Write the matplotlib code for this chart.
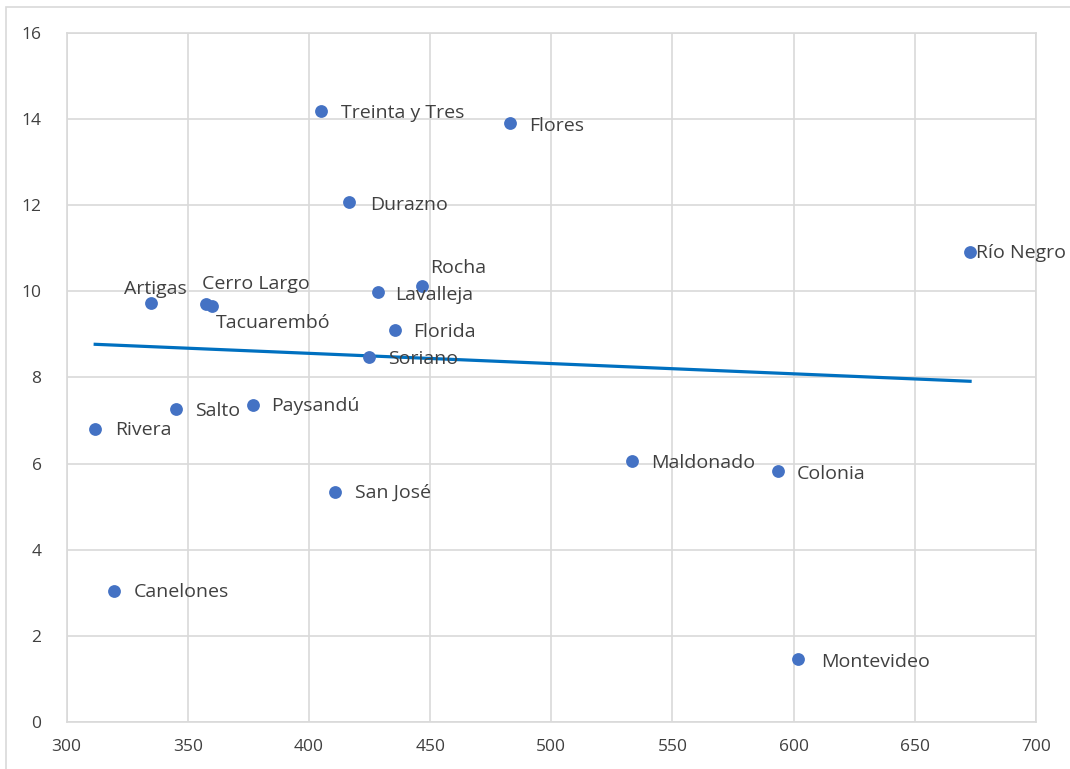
import matplotlib
matplotlib.use("Agg")
import matplotlib.pyplot as plt
from matplotlib.patches import Rectangle
import numpy as np

plt.rcParams['font.family'] = ['Open Sans', 'DejaVu Sans']

departamentos = ["Treinta y Tres", "Flores", "Durazno", "Rocha", "Lavalleja",
                 "Artigas", "Cerro Largo", "Tacuarembó", "Florida", "Soriano",
                 "Salto", "Paysandú", "Rivera", "San José", "Canelones",
                 "Maldonado", "Colonia", "Montevideo", "Río Negro"]
x_vals = [405.0, 483.0, 416.6, 446.8, 428.5,
          335.0, 357.5, 359.8, 435.5, 424.8,
          345.0, 376.8, 311.8, 410.7, 319.4,
          533.2, 593.4, 602.0, 672.8]
y_vals = [14.18, 13.90, 12.07, 10.13, 9.98,
          9.74, 9.71, 9.66, 9.10, 8.48,
          7.28, 7.36, 6.81, 5.35, 3.05,
          6.06, 5.83, 1.48, 10.92]

# label offsets in pixels (dx, dy), ha
offsets = {
    "Treinta y Tres": (20, -2, 'left'),
    "Flores": (19, -3, 'left'),
    "Durazno": (21, -3, 'left'),
    "Rocha": (8, 18, 'left'),
    "Lavalleja": (17, -3, 'left'),
    "Artigas": (4, 14, 'center'),
    "Cerro Largo": (-4, 20, 'left'),
    "Tacuarembó": (4, -17, 'left'),
    "Florida": (18, -2, 'left'),
    "Soriano": (19, -2, 'left'),
    "Salto": (19, -2, 'left'),
    "Paysandú": (18, -1, 'left'),
    "Rivera": (20, -1, 'left'),
    "San José": (20, -1, 'left'),
    "Canelones": (20, -1, 'left'),
    "Maldonado": (19, -2, 'left'),
    "Colonia": (19, -3, 'left'),
    "Montevideo": (23, -3, 'left'),
    "Río Negro": (6, -1, 'left'),
}

grey = '#D9D9D9'
txt = '#404040'

fig = plt.figure(figsize=(10.7, 7.69), dpi=100)
fig.patches.append(Rectangle((6/1070, -0.1), 1.2, 1.1 - 7/769,
                             transform=fig.transFigure, fill=False,
                             edgecolor=grey, linewidth=1.2))
ax = fig.add_axes([66.6/1070, 1 - 722.3/769, (1036 - 66.6)/1070, (722.3 - 32.7)/769])

ax.scatter(x_vals, y_vals, s=85, color='#4472C4', zorder=3, linewidths=0)

# linear trend line
xa = np.array(x_vals)
ya = np.array(y_vals)
m, b = np.polyfit(xa, ya, 1)
xl = np.array([xa.min(), xa.max()])
ax.plot(xl, m*xl + b, color='#0070C0', linewidth=2.3, zorder=2)

for name, xv, yv in zip(departamentos, x_vals, y_vals):
    dx, dy, ha = offsets[name]
    ax.annotate(name, (xv, yv), xytext=(dx, dy), textcoords='offset pixels',
                ha=ha, va='center', fontsize=14, color=txt,
                annotation_clip=False, zorder=4)

ax.set_xlim(300, 700)
ax.set_ylim(0, 16)
ax.set_xticks(np.arange(300, 701, 50))
ax.set_yticks(np.arange(0, 17, 2))
ax.grid(True, color=grey, linewidth=1.2)
ax.set_axisbelow(True)
for sp in ax.spines.values():
    sp.set_color(grey)
    sp.set_linewidth(1.2)
ax.tick_params(length=0, labelsize=12.5, labelcolor=txt)
ax.tick_params(axis='y', pad=18)
ax.tick_params(axis='x', pad=12)

fig.savefig("out.png", dpi=100)
